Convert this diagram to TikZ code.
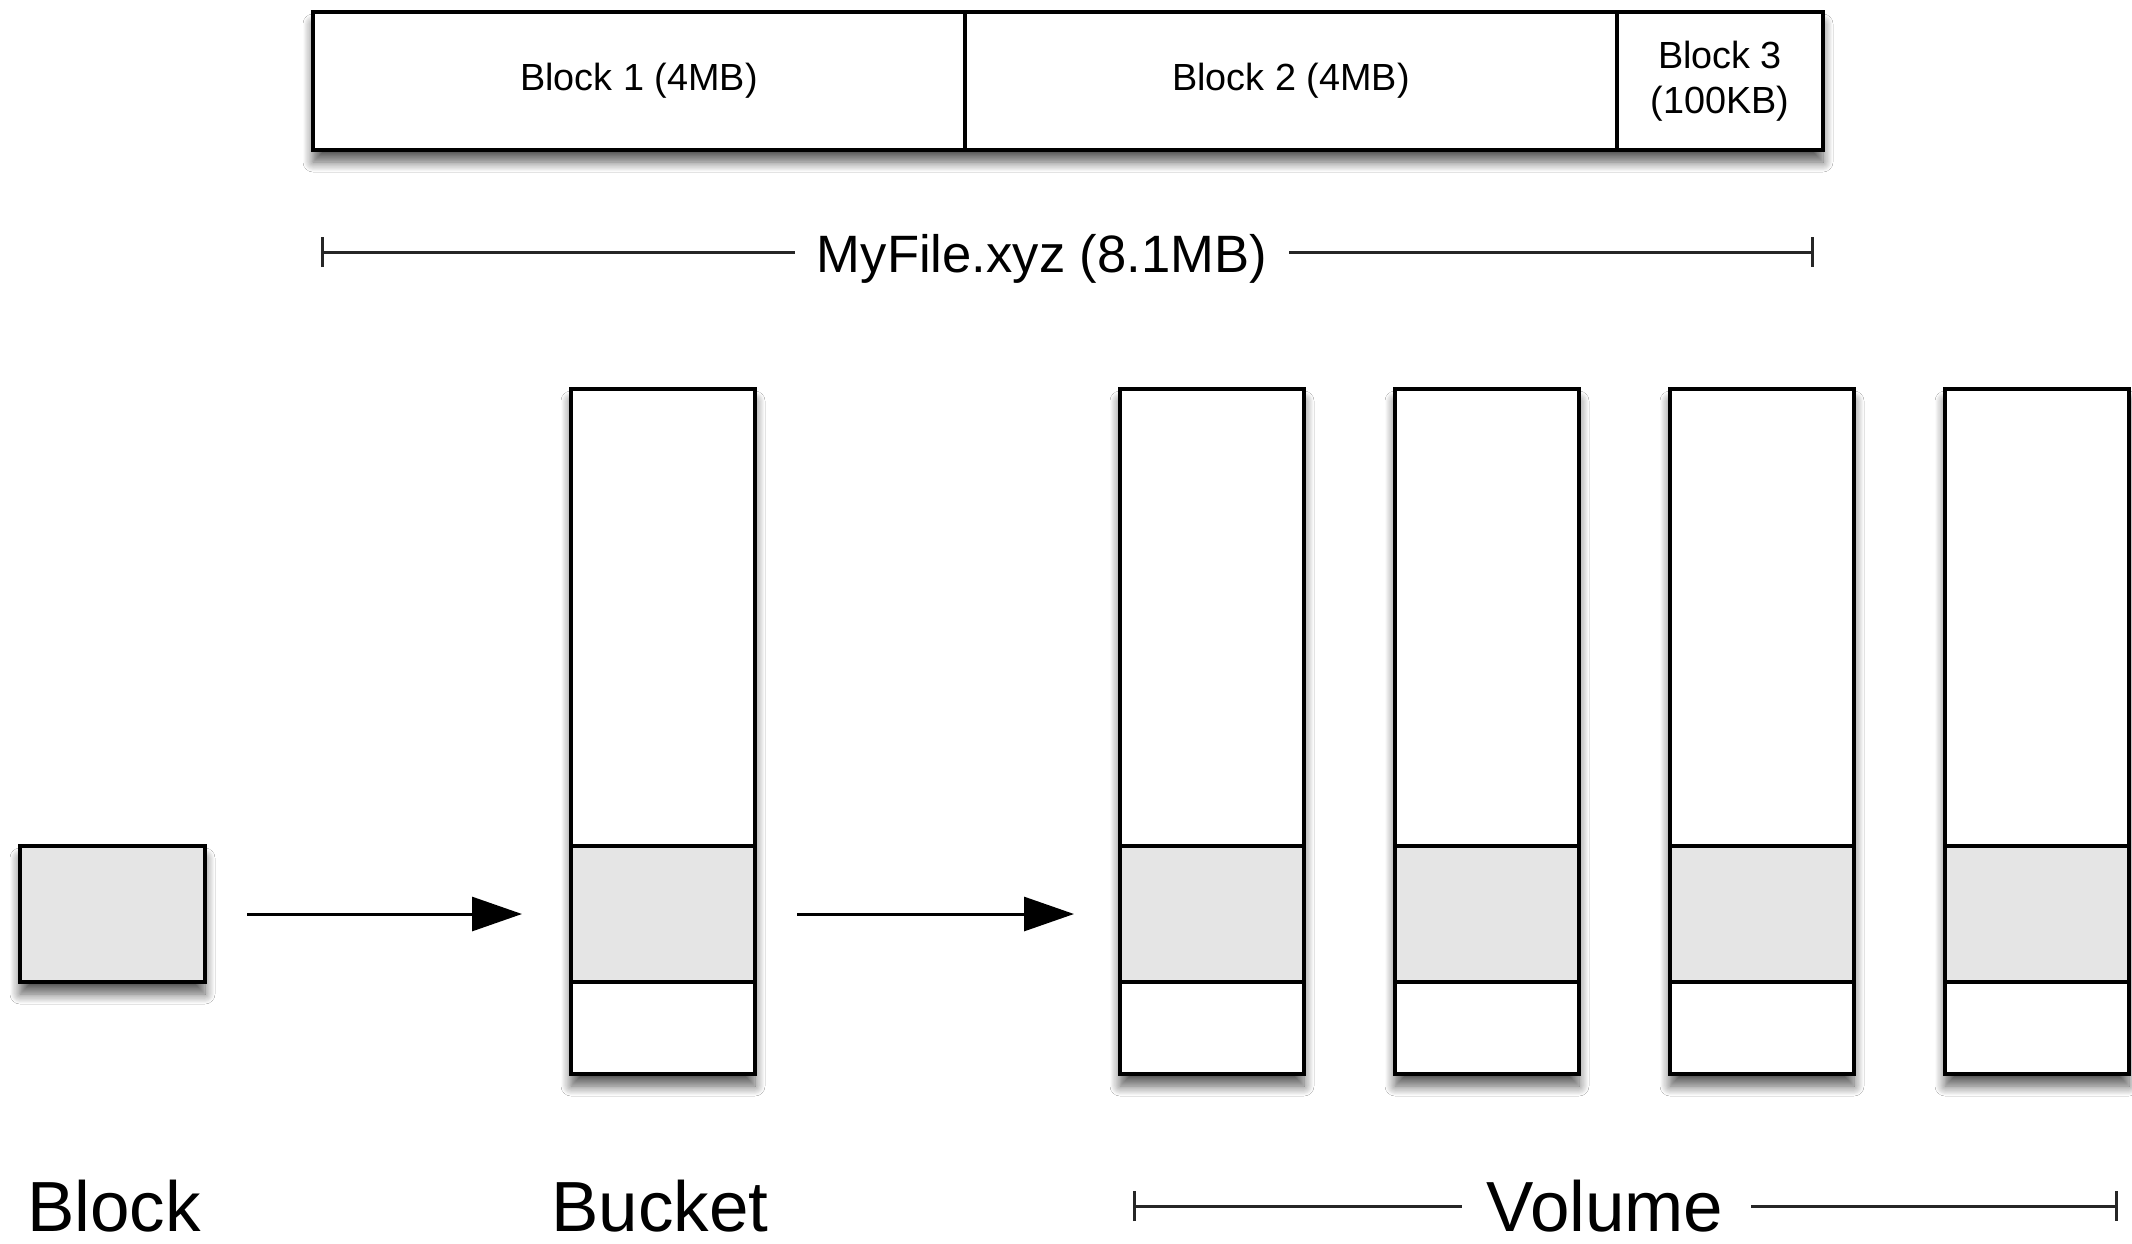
\documentclass[tikz,border=0pt]{standalone}
\usepackage{fontspec}
\setmainfont{Liberation Sans}
\usetikzlibrary{arrows.meta,shadows.blur}
\definecolor{cellgray}{HTML}{E5E5E5}
\begin{document}
\begin{tikzpicture}[x=0.5pt,y=-0.5pt,
  shad/.style={blur shadow={shadow xshift=0pt,shadow yshift=-6pt,shadow blur radius=5pt,shadow blur steps=10,shadow opacity=65}},
  plain/.style={draw=black,line width=1.7pt,inner sep=0pt,outer sep=0pt,anchor=north west,fill=white},
  box/.style={plain,shad},
  cell/.style={draw=black,line width=1.7pt,inner sep=0pt,outer sep=0pt,anchor=north west,fill=cellgray,
    minimum width=92pt,minimum height=68pt},
  colbox/.style={box,minimum width=92pt,minimum height=342.5pt},
  topseg/.style={plain,minimum height=69pt,font=\fontsize{18.9}{22.5}\selectfont,align=center},
  flow/.style={line width=1.5pt,draw=black,opacity=1,-{Triangle[length=25pt,width=17pt,fill=black,color=black]}},
  dim/.style={line width=1.5pt,draw=black!85,opacity=1},
  bigtxt/.style={font=\fontsize{35.5}{40}\selectfont,anchor=base,inner sep=0pt},
  midtxt/.style={font=\fontsize{26.3}{30}\selectfont,anchor=base,inner sep=0pt}]
\useasboundingbox (0,0) rectangle (2132,1243);
\fill[white] (0,0) rectangle (2132,1243);
% top bar (shadow behind the three segments)
\coordinate (tbNW) at (313,12);
\coordinate (tbSE) at (1823,150);
\fill[white,shad] (tbNW) rectangle (tbSE);
\node[topseg,minimum width=326pt] (b1) at (313,12) {Block 1 (4MB)};
\node[topseg,minimum width=326pt] (b2) at (965,12) {Block 2 (4MB)};
\node[topseg,minimum width=103pt] (b3) at (1617,12) {Block 3\\(100KB)};
% file dimension line
\node[midtxt] (mf) at (1042,272) {MyFile.xyz (8.1MB)};
\coordinate (mfL) at (321,252);
\coordinate (mfR) at (1814,252);
\coordinate (mfGL) at (795,252);
\coordinate (mfGR) at (1289,252);
\draw[dim,{Bar[width=15pt]}-] (mfL) -- (mfGL);
\draw[dim,-{Bar[width=15pt]}] (mfGR) -- (mfR);
% block
\node[box,fill=cellgray,minimum width=92.5pt,minimum height=68pt] (blk) at (20,846) {};
% bucket
\node[colbox] (bkt) at (571,389) {};
\node[cell] (bktm) at (571,846) {};
% volume columns
\foreach \i/\x in {1/1120,2/1395,3/1670,4/1945}{
  \node[colbox] (v\i) at (\x,389) {};
  \node[cell] (v\i m) at (\x,846) {};
}
% arrows
\draw[flow,shorten <=21pt,shorten >=24.5pt] (blk.east) -- (bktm.west);
\draw[flow,shorten <=21pt,shorten >=23pt] (bktm.east) -- (v1m.west);
% labels
\node[bigtxt] (lblock) at (114,1231) {Block};
\node[bigtxt] (lbucket) at (660,1231) {Bucket};
\node[bigtxt] (lvol) at (1605,1231) {Volume};
\coordinate (vL) at (1133,1206);
\coordinate (vR) at (2118,1206);
\coordinate (vGL) at (1462,1206);
\coordinate (vGR) at (1751,1206);
\draw[dim,{Bar[width=15pt]}-] (vL) -- (vGL);
\draw[dim,-{Bar[width=15pt]}] (vGR) -- (vR);
\end{tikzpicture}
\end{document}
